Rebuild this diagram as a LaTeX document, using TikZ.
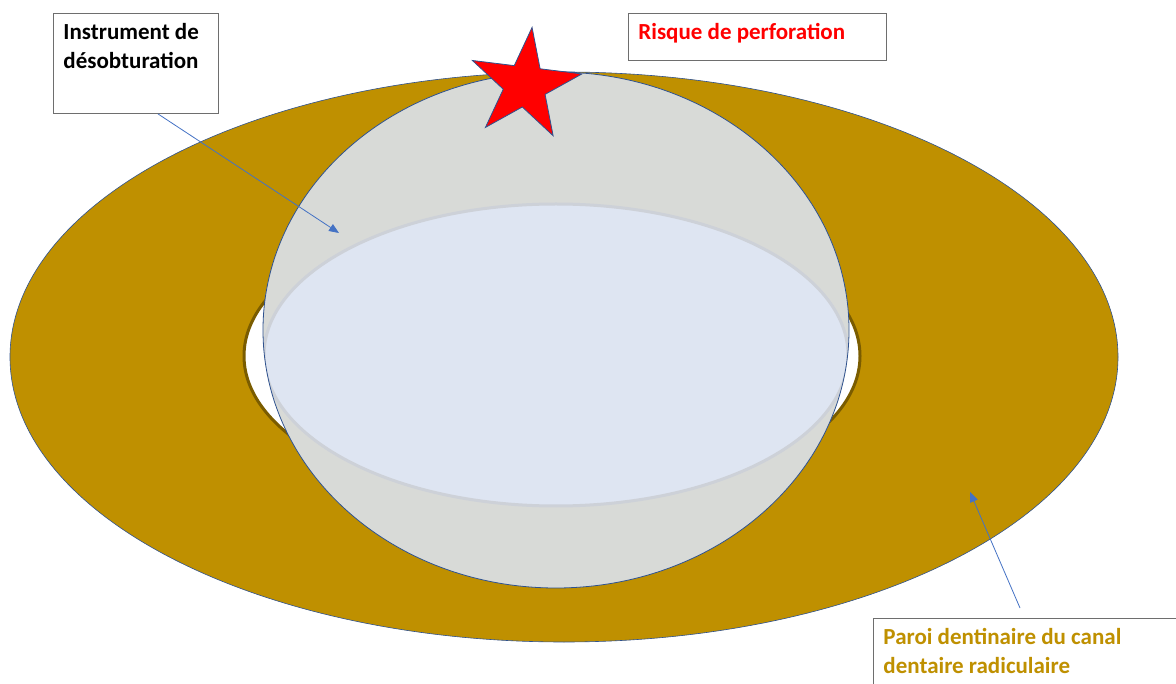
\documentclass[tikz,border=0pt]{standalone}
\usepackage{fontspec}
\setmainfont{Carlito}
\usetikzlibrary{shapes.geometric,arrows.meta}
\definecolor{dentin}{HTML}{BF9000}
\definecolor{dentindark}{HTML}{7A5C00}
\definecolor{sphere}{HTML}{D8DAD7}
\definecolor{lens}{HTML}{DEE5F2}
\definecolor{lensedge}{HTML}{CDD1D8}
\definecolor{outline}{HTML}{2F528F}
\definecolor{arrowblue}{HTML}{4472C4}
\definecolor{boxgray}{HTML}{6E6E6E}
\definecolor{riskred}{HTML}{FF0000}
\tikzset{
  labelbox/.style={draw=boxgray, line width=0.9pt, fill=white, anchor=north west, inner xsep=10pt, inner ysep=10pt, font=\fontsize{23}{28.5}\selectfont\bfseries},
  pointer/.style={draw=arrowblue, line width=0.8pt, -{Triangle[length=10pt,width=8pt]}},
}
\begin{document}
\begin{tikzpicture}[x=1pt,y=-1pt]
\useasboundingbox (0,0) rectangle (1176,684);
\clip (0,0) rectangle (1176,684);
% dentin wall
\fill[dentin, draw=outline, line width=0.6pt] (564,357) ellipse [x radius=554, y radius=285];
% canal lumen
\fill[white, draw=dentindark, line width=3pt] (552,356) ellipse [x radius=308, y radius=151];
% instrument sphere
\fill[sphere] (556,330) ellipse [x radius=293, y radius=258];
\begin{scope}
\clip (556,330) ellipse [x radius=293, y radius=258];
\fill[lens, draw=lensedge, line width=3pt] (556,355) ellipse [x radius=292, y radius=151];
\end{scope}
\draw[outline, line width=0.8pt] (556,330) ellipse [x radius=293, y radius=258];
% star
\node[star, star points=5, star point ratio=2.618, minimum size=116pt, inner sep=0pt, rotate=-7, fill=riskred, draw=outline, line width=0.8pt] (star) at (525,85) {};
% labels
\node[labelbox, text=black] (box1) at (53,13) {\parbox[t][80pt][t]{145pt}{\raggedright Instrument de\\désobturation}};
\node[labelbox, text=riskred] (box2) at (628,13) {\parbox[t][27pt][t]{238pt}{\raggedright Risque de perforation}};
\node[labelbox, text=dentin] (box3) at (873,618) {\parbox[t][80pt][t]{300pt}{\raggedright Paroi dentinaire du canal\\dentaire radiculaire}};
\coordinate (tip1) at (339,233);
\coordinate (tip2) at (970,492);
\draw[pointer] ([xshift=22pt]box1.south) -- (tip1);
\draw[pointer] ([shift={(147,-10)}]box3.north west) -- (tip2);
\end{tikzpicture}
\end{document}
